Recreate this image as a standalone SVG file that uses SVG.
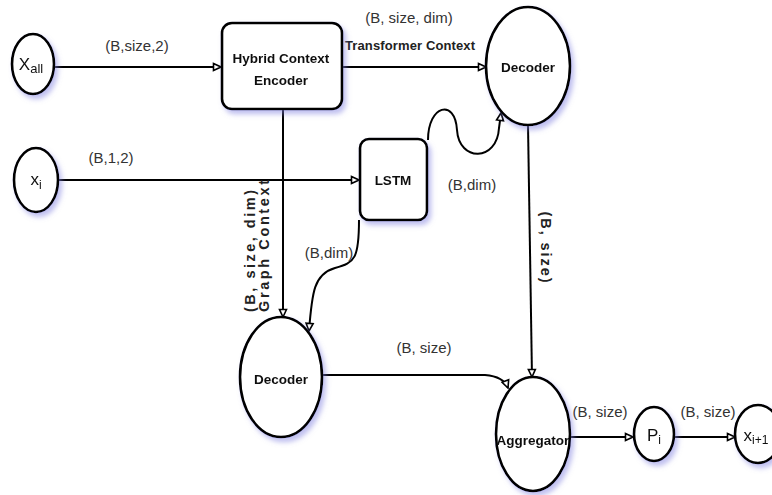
<svg xmlns="http://www.w3.org/2000/svg" width="772" height="495" viewBox="0 0 772 495">
<defs>
<style>
.node{fill:#fff;stroke:#000;stroke-width:2.6}
.edge{fill:none;stroke:#000;stroke-width:2}
.nl{font-family:"Liberation Sans",Arial,sans-serif;font-weight:bold;font-size:13.5px;fill:#111;text-anchor:middle}
.sym{font-family:"Liberation Sans",Arial,sans-serif;font-size:17px;fill:#111;text-anchor:middle}
.el{font-family:"Liberation Sans",Arial,sans-serif;font-size:15px;fill:#333;text-anchor:middle}
.bl{font-family:"Liberation Sans",Arial,sans-serif;font-weight:bold;font-size:13px;fill:#222;text-anchor:middle}
.rl{font-family:"Liberation Sans",Arial,sans-serif;font-weight:bold;font-size:14.5px;fill:#222;text-anchor:middle}
</style>
<filter id="sh" x="-30%" y="-30%" width="170%" height="170%">
<feDropShadow dx="3" dy="4" stdDeviation="2.5" flood-color="#8080e0" flood-opacity="0.5"/>
</filter>
<marker id="arr" viewBox="0 0 10 10" refX="9" refY="5" markerWidth="10" markerHeight="10" orient="auto" markerUnits="userSpaceOnUse">
<path d="M1.5,1.5 L9,5 L1.5,8.5 Z" fill="#fff" stroke="#000" stroke-width="1.6"/>
</marker>
</defs>
<rect width="772" height="495" fill="#fff"/>

<g id="connectors">
<path class="edge" d="M54 67 L221 67" marker-end="url(#arr)"/>
<path class="edge" d="M58 180 L359 180" marker-end="url(#arr)"/>
<path class="edge" d="M342 67 L486 67" marker-end="url(#arr)"/>
<path class="edge" d="M428 140 C428 105 455 98 457 130 C459 162 497 162 499 128 L501 113" marker-end="url(#arr)"/>
<path class="edge" d="M283 109 L283 317" marker-end="url(#arr)"/>
<path class="edge" d="M359 220 C359 258 355 263 335 268 C314 274 312 292 309 331" marker-end="url(#arr)"/>
<path class="edge" d="M528 125 L532 377" marker-end="url(#arr)"/>
<path class="edge" d="M322 375 L485 375 C498 376 505 380 508 388" marker-end="url(#arr)"/>
<path class="edge" d="M570 437 L633 437" marker-end="url(#arr)"/>
<path class="edge" d="M674 437 L735 437" marker-end="url(#arr)"/>

<text class="el" x="137" y="51">(B,size,2)</text>
<text class="el" x="111" y="163">(B,1,2)</text>
<text class="el" x="409" y="23">(B, size, dim)</text>
<text class="bl" x="410" y="50" textLength="130">Transformer Context</text>
<text class="el" x="472" y="190">(B,dim)</text>
<text class="el" x="329" y="258">(B,dim)</text>
<text class="el" x="424" y="353">(B, size)</text>
<text class="el" x="600" y="417">(B, size)</text>
<text class="el" x="708" y="417">(B, size)</text>
<text class="rl" transform="translate(255,251) rotate(-90)" textLength="122">(B, size, dim)</text>
<text class="rl" transform="translate(269,246) rotate(-90)" textLength="132">Graph Context</text>
<text class="rl" transform="translate(541,247) rotate(90)" textLength="71">(B, size)</text>
</g>

<g id="x_all" filter="url(#sh)">
<ellipse class="node" cx="33" cy="64" rx="21" ry="30"/>
<text class="sym" x="31" y="70">X<tspan font-size="13" dy="3">all</tspan></text>
</g>
<g id="x_i" filter="url(#sh)">
<ellipse class="node" cx="36" cy="180" rx="22" ry="32"/>
<text class="sym" x="36" y="185">x<tspan font-size="12" dy="4">i</tspan></text>
</g>
<g id="encoder" filter="url(#sh)">
<rect class="node" x="222" y="23" width="120" height="86" rx="10"/>
<text class="nl" x="281" y="63">Hybrid Context</text>
<text class="nl" x="281" y="85">Encoder</text>
</g>
<g id="lstm" filter="url(#sh)">
<rect class="node" x="360" y="139" width="67" height="81" rx="9"/>
<text class="nl" x="393" y="185">LSTM</text>
</g>
<g id="decoder_top" filter="url(#sh)">
<ellipse class="node" cx="528" cy="66" rx="42" ry="59"/>
<text class="nl" x="528" y="72">Decoder</text>
</g>
<g id="decoder_bottom" filter="url(#sh)">
<ellipse class="node" cx="281" cy="377" rx="41" ry="60"/>
<text class="nl" x="281" y="384">Decoder</text>
</g>
<g id="aggregator" filter="url(#sh)">
<ellipse class="node" cx="533" cy="434" rx="37" ry="57"/>
<text class="nl" x="533" y="445" font-size="12.5">Aggregator</text>
</g>
<g id="p_i" filter="url(#sh)">
<ellipse class="node" cx="654" cy="434" rx="20" ry="27"/>
<text class="sym" x="654" y="441">P<tspan font-size="12" dy="3">i</tspan></text>
</g>
<g id="x_i1" filter="url(#sh)">
<ellipse class="node" cx="758" cy="434" rx="23" ry="29"/>
<text class="sym" x="756" y="441">x<tspan font-size="12" dy="3">i+1</tspan></text>
</g>
</svg>
